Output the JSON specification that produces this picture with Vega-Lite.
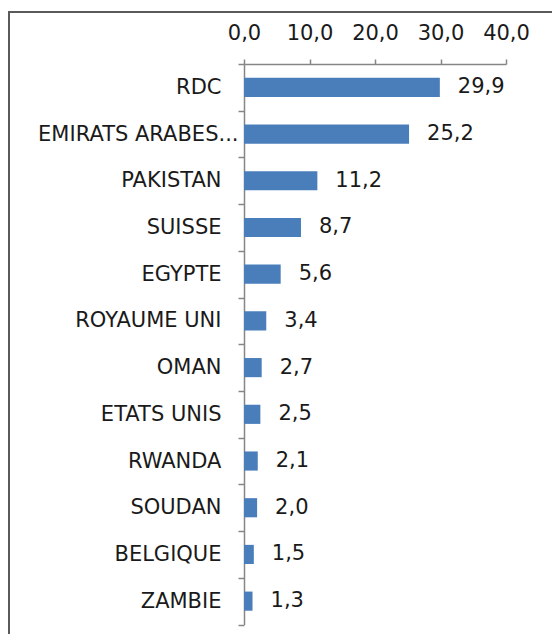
{
  "$schema": "https://vega.github.io/schema/vega-lite/v6.json",
  "width": 560,
  "height": 640,
  "autosize": {"type": "none"},
  "padding": {"left": 9, "top": 12, "right": 0, "bottom": 0},
  "background": "white",
  "config": {
    "view": {"stroke": "#5a5a5a", "strokeWidth": 2},
    "font": "DejaVu Sans"
  },
  "data": {
    "values": [
      {"pays": "RDC", "valeur": 29.9, "label": "29,9"},
      {"pays": "EMIRATS ARABES...", "valeur": 25.2, "label": "25,2"},
      {"pays": "PAKISTAN", "valeur": 11.2, "label": "11,2"},
      {"pays": "SUISSE", "valeur": 8.7, "label": "8,7"},
      {"pays": "EGYPTE", "valeur": 5.6, "label": "5,6"},
      {"pays": "ROYAUME UNI", "valeur": 3.4, "label": "3,4"},
      {"pays": "OMAN", "valeur": 2.7, "label": "2,7"},
      {"pays": "ETATS UNIS", "valeur": 2.5, "label": "2,5"},
      {"pays": "RWANDA", "valeur": 2.1, "label": "2,1"},
      {"pays": "SOUDAN", "valeur": 2.0, "label": "2,0"},
      {"pays": "BELGIQUE", "valeur": 1.5, "label": "1,5"},
      {"pays": "ZAMBIE", "valeur": 1.3, "label": "1,3"}
    ]
  },
  "encoding": {
    "y": {
      "field": "pays",
      "type": "nominal",
      "sort": null,
      "scale": {"range": [52, 612.5], "paddingInner": 0, "paddingOuter": 0},
      "axis": {
        "title": null,
        "orient": "left",
        "offset": -235,
        "tickBand": "extent",
        "domainColor": "#868686",
        "domainWidth": 1.5,
        "tickColor": "#868686",
        "tickWidth": 1.5,
        "tickSize": 6,
        "labelPadding": {"condition": {"test": "datum.value === 'EMIRATS ARABES...'", "value": 0}, "value": 17},
        "labelFont": "DejaVu Sans",
        "labelFontSize": 21,
        "labelColor": "#1a1a1a",
        "labelLimit": 400,
        "grid": false
      }
    },
    "x": {
      "field": "valeur",
      "type": "quantitative",
      "scale": {"domain": [0, 40], "range": [235, 497], "nice": false},
      "axis": {
        "title": null,
        "orient": "top",
        "offset": -52,
        "values": [0, 10, 20, 30, 40],
        "labelExpr": "replace(format(datum.value, '.1f'), '.', ',')",
        "domainColor": "#868686",
        "domainWidth": 1.5,
        "tickColor": "#868686",
        "tickWidth": 1.5,
        "tickSize": 5,
        "labelPadding": 16,
        "labelFont": "DejaVu Sans",
        "labelFontSize": 21,
        "labelColor": "#1a1a1a",
        "labelFlush": false,
        "labelOverlap": false,
        "grid": false
      }
    }
  },
  "layer": [
    {
      "mark": {"type": "bar", "color": "#4a7ebb", "height": {"band": 0.41}}
    },
    {
      "mark": {
        "type": "text",
        "align": "left",
        "baseline": "middle",
        "dx": 18,
        "font": "DejaVu Sans",
        "fontSize": 21,
        "color": "#1a1a1a"
      },
      "encoding": {"text": {"field": "label"}}
    }
  ]
}
